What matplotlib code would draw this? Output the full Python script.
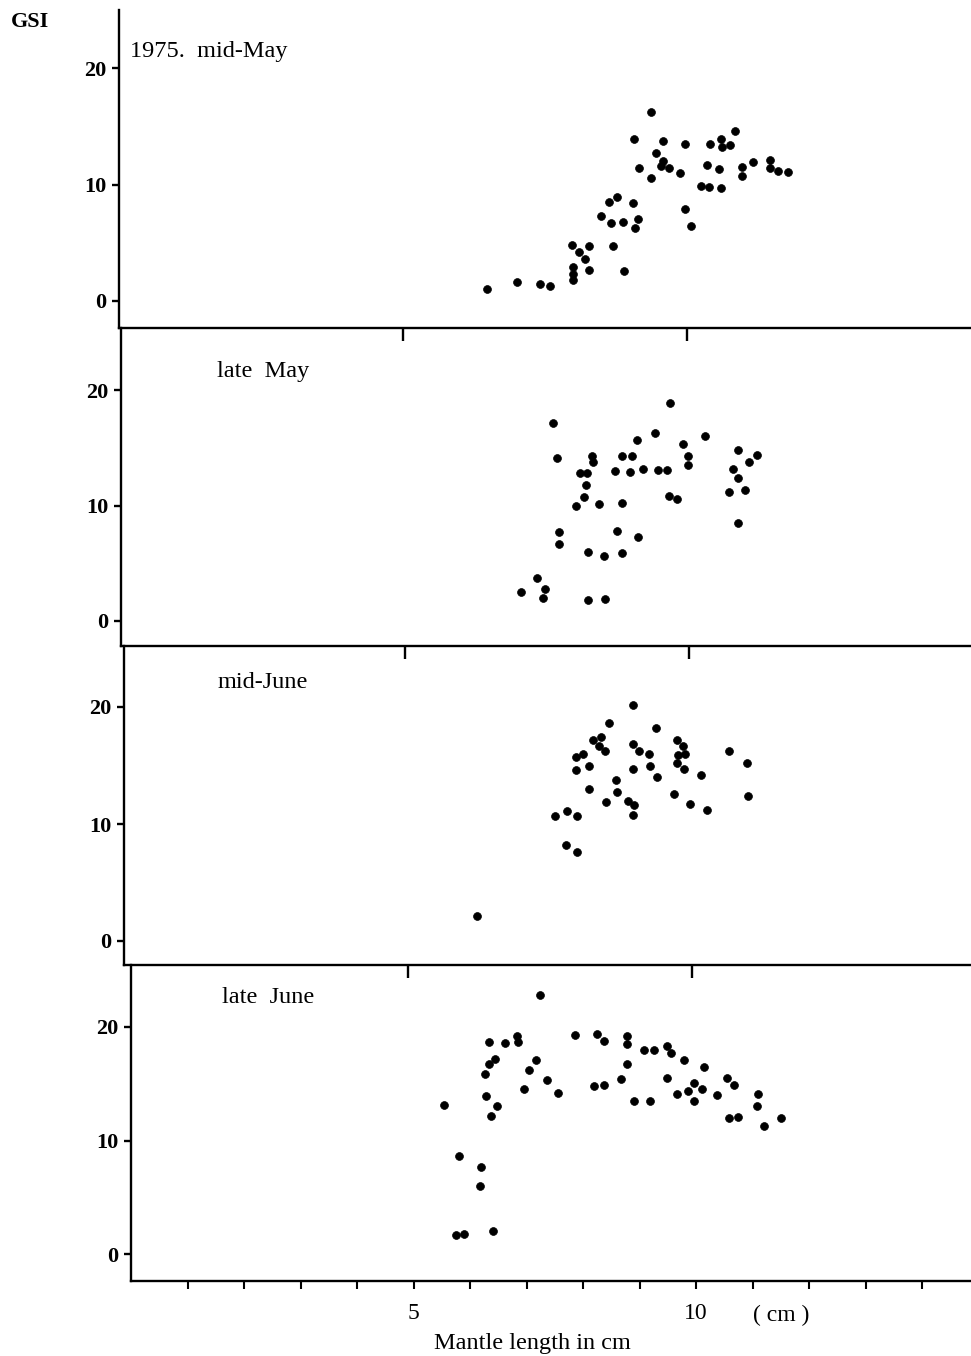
"""
GSI vs mantle length, four sampling periods (1975)
"""

import matplotlib.pyplot as plt

plt.rcParams['font.family'] = ['Liberation Serif', 'DejaVu Serif']

# ---- data (mantle length cm, GSI) ----
panel_labels = ['1975.  mid-May', 'late  May', 'mid-June', 'late  June']

ml_midmay = [9.07, 9.15, 8.62, 8.76, 9.05, 8.48, 8.67, 8.88, 9.14, 9.08,
             7.98, 8.27, 8.70, 8.09, 8.20, 7.99, 8.27, 8.89, 7.99, 7.99,
             6.48, 7.00, 7.42, 7.58, 9.37, 9.57, 9.97, 10.40, 10.60, 10.61,
             10.76, 10.85, 9.46, 9.57, 9.54, 9.68, 9.88, 9.36, 10.35, 10.57,
             10.96, 10.97, 11.16, 11.46, 11.46, 11.61, 11.77, 10.25, 10.38, 10.59,
             9.97, 10.07]
gsi_midmay = [13.9, 11.4, 8.5, 8.9, 8.4, 7.3, 6.7, 6.8, 7.0, 6.3,
              4.8, 4.7, 4.7, 4.2, 3.6, 2.9, 2.7, 2.6, 2.3, 1.8,
              1.0, 1.6, 1.5, 1.3, 16.2, 13.7, 13.5, 13.5, 13.9, 13.2,
              13.4, 14.6, 12.7, 12.0, 11.6, 11.4, 11.0, 10.6, 11.7, 11.3,
              11.5, 10.7, 11.9, 12.1, 11.4, 11.2, 11.1, 9.9, 9.8, 9.7,
              7.9, 6.4]

ml_latemay = [7.61, 9.08, 7.67, 8.29, 8.31, 8.82, 9.00, 8.08, 8.21, 8.69,
              8.96, 8.19, 8.16, 8.01, 8.41, 8.82, 7.72, 7.72, 8.74, 9.10,
              8.22, 8.51, 8.82, 7.33, 7.04, 7.46, 7.43, 8.23, 8.52,
              9.67, 9.40, 10.29, 9.89, 9.99, 9.99, 9.19, 9.46, 9.61, 9.65,
              9.78, 10.87, 11.20, 11.06, 10.77, 10.87, 10.70, 10.98, 10.87]
gsi_latemay = [17.1, 15.7, 14.1, 14.3, 13.8, 14.3, 14.3, 12.8, 12.8, 13.0,
               12.9, 11.8, 10.7, 10.0, 10.1, 10.2, 7.7, 6.7, 7.8, 7.3,
               6.0, 5.6, 5.9, 3.7, 2.5, 2.8, 2.0, 1.8, 1.9,
               18.9, 16.3, 16.0, 15.3, 14.3, 13.5, 13.2, 13.1, 13.1, 10.8,
               10.6, 14.8, 14.4, 13.8, 13.2, 12.4, 11.2, 11.3, 8.5]

ml_midjune = [8.53, 8.25, 8.40, 8.37, 8.47, 7.96, 8.08, 8.18, 7.95, 8.19,
              8.49, 7.58, 7.80, 7.98, 7.79, 7.97, 6.21,
              8.97, 9.37, 8.96, 9.07, 9.24, 9.74, 9.84, 9.76, 9.88, 9.74,
              9.86, 9.26, 8.97, 9.38, 8.66, 10.15, 10.66, 10.97, 8.68, 8.87,
              8.98, 8.96, 9.68, 9.96, 10.27, 10.99]
gsi_midjune = [18.6, 17.2, 17.4, 16.7, 16.2, 15.7, 16.0, 15.0, 14.6, 13.0,
               11.9, 10.7, 11.1, 10.7, 8.2, 7.6, 2.1,
               20.2, 18.2, 16.8, 16.2, 16.0, 17.2, 16.7, 15.9, 16.0, 15.2,
               14.7, 15.0, 14.7, 14.0, 13.8, 14.2, 16.2, 15.2, 12.7, 12.0,
               11.6, 10.8, 12.6, 11.7, 11.2, 12.4]

ml_latejune = [7.24, 7.86, 8.25, 8.37, 6.34, 6.62, 6.84, 6.85, 6.44, 6.34,
               6.26, 7.17, 7.05, 7.37, 6.96, 7.55, 8.20, 8.37, 6.29, 6.48,
               6.37, 5.54, 5.80, 6.20, 6.18, 5.76, 5.90, 6.41,
               8.77, 8.77, 9.08, 9.26, 9.48, 9.56, 9.79, 10.15, 8.77, 8.68,
               9.49, 9.96, 9.86, 10.10, 9.66, 9.97, 8.91, 9.19, 10.38, 10.55,
               10.68, 11.10, 11.08, 10.58, 10.74, 11.20, 11.50]
gsi_latejune = [22.8, 19.3, 19.4, 18.8, 18.7, 18.6, 19.2, 18.7, 17.2, 16.7,
                15.9, 17.1, 16.2, 15.3, 14.5, 14.2, 14.8, 14.9, 13.9, 13.0,
                12.2, 13.1, 8.6, 7.7, 6.0, 1.7, 1.8, 2.0,
                19.2, 18.5, 18.0, 18.0, 18.3, 17.7, 17.1, 16.5, 16.7, 15.4,
                15.5, 15.1, 14.4, 14.5, 14.1, 13.5, 13.5, 13.5, 14.0, 15.5,
                14.9, 14.1, 13.0, 12.0, 12.1, 11.3, 12.0]

y_ticks = [0, 10, 20]
x_major = [5, 10]
x_minor = list(range(1, 15))

W, H = 971, 1356


def make_panel(fig, left, top, bottom, y0, yscale, xscale, right=970):
    """Add an axes placed in pixel units, scaled so ticks land where the scan has them."""
    ax = fig.add_axes([left / W, 1 - bottom / H, (right - left) / W, (bottom - top) / H])
    ax.set_xlim(0, (right - left) / xscale)
    ax.set_ylim((y0 - bottom) / yscale, (y0 - top) / yscale)
    for s in ('top', 'right'):
        ax.spines[s].set_visible(False)
    for s in ('left', 'bottom'):
        ax.spines[s].set_linewidth(1.7)
    ax.set_yticks(y_ticks)
    ax.set_yticklabels([str(t) for t in y_ticks], fontsize=16, fontweight='bold')
    ax.tick_params(axis='y', direction='out', length=5, width=1.7, pad=4)
    ax.patch.set_alpha(0)
    return ax


fig = plt.figure(figsize=(W / 100, H / 100), dpi=100)

panels = [
    (ml_midmay, gsi_midmay, dict(left=119, top=10, bottom=328, y0=301, yscale=11.65, xscale=56.8), (0.19, 21.4)),
    (ml_latemay, gsi_latemay, dict(left=121, top=328, bottom=646, y0=621, yscale=11.55, xscale=56.8), (1.69, 21.6)),
    (ml_midjune, gsi_midjune, dict(left=124, top=646, bottom=965, y0=941, yscale=11.7, xscale=56.8), (1.64, 22.1)),
    (ml_latejune, gsi_latejune, dict(left=131, top=965, bottom=1281, y0=1254, yscale=11.35, xscale=56.5), (1.61, 22.6)),
]

for i, (xs, ys, geom, lab_pos) in enumerate(panels):
    ax = make_panel(fig, **geom)
    ax.scatter(xs, ys, s=32, color='black', edgecolors='black', linewidths=0.5, zorder=3)
    ax.text(lab_pos[0], lab_pos[1], panel_labels[i], fontsize=17.5, ha='left', va='center')

    if i < 3:
        ax.set_xticks(x_major)
        ax.set_xticklabels([])
        ax.tick_params(axis='x', direction='out', length=9, width=1.7)
    else:
        ax.set_xticks(x_minor)
        ax.set_xticklabels([str(t) if t in x_major else '' for t in x_minor], fontsize=17)
        ax.tick_params(axis='x', direction='out', length=6, width=1.5, pad=10)
        ax.text(11.5, -0.075, '( cm )', transform=ax.get_xaxis_transform(),
                fontsize=17, ha='center', va='top')

fig.text(532 / W, 1 - 1343 / H, 'Mantle length in cm', fontsize=17.5, ha='center', va='center')
fig.text(30 / W, 1 - 22 / H, 'GSI', fontsize=16, fontweight='bold', ha='center', va='center')

plt.savefig('out.png', dpi=100)
